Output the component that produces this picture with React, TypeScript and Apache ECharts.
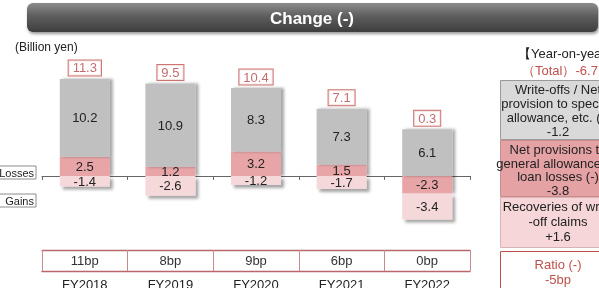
import React, { useEffect, useRef } from "react";
import * as echarts from "echarts";

const categories = ["FY2018", "FY2019", "FY2020", "FY2021", "FY2022"];
const writeOffs = [10.2, 10.9, 8.3, 7.3, 6.1];
const netProvisions = [2.5, 1.2, 3.2, 1.5, -2.3];
const recoveries = [-1.4, -2.6, -1.2, -1.7, -3.4];
const totals = [11.3, 9.5, 10.4, 7.1, 0.3];
const ratios = ["11bp", "8bp", "9bp", "6bp", "0bp"];

const titleText = "Change (-)";
const unitText = "(Billion yen)";
const yoyTitle = "【Year-on-year】";
const yoyTotal = "（Total）-6.7";
const yoyWriteOffs = ["Write-offs / Net", "provision to specific", "allowance, etc. (-)", "-1.2"];
const yoyNetProv = ["Net provisions to", "general allowance for", "loan losses (-)", "-3.8"];
const yoyRecoveries = ["Recoveries of write", "-off claims", "+1.6"];
const yoyRatio = ["Ratio (-)", "-5bp"];

const FONT = "'Liberation Sans', Arial, sans-serif";
const GRAY = "#c0c0c0";
const PINK = "#e8a5a8";
const LPINK = "#f5d8da";
const RED = "#c0504d";

function boxText(lines: string[], cx: number, top: number, lh: number, color = "#222") {
  return {
    type: "text",
    x: cx,
    y: top,
    style: {
      text: lines.join("\n"),
      fill: color,
      font: `13px ${FONT}`,
      textAlign: "center",
      textVerticalAlign: "top",
      lineHeight: lh,
    },
  };
}

export default function App() {
  const ref = useRef<HTMLDivElement>(null);
  useEffect(() => {
    const chart = echarts.init(ref.current!, null, { renderer: "svg" });
    const segLabel = {
      show: true,
      position: "inside",
      fontSize: 13,
      fontFamily: FONT,
      color: "#222",
      formatter: (p: any) => Number(p.value).toFixed(1),
    };
    const shadow = {
      shadowColor: "rgba(0,0,0,0.35)",
      shadowBlur: 3,
      shadowOffsetX: 3,
      shadowOffsetY: 0,
    };
    chart.setOption({
      animation: false,
      textStyle: { fontFamily: FONT },
      grid: { left: 42, right: 129, top: 69, height: 168, containLabel: false, outerBoundsMode: "none" },
      xAxis: [
        {
          type: "category",
          data: categories,
          axisLine: { onZero: true, lineStyle: { color: "#666", width: 1 } },
          axisTick: { show: true, length: 4, lineStyle: { color: "#666" } },
          axisLabel: { show: false },
        },
        {
          type: "category",
          data: ratios,
          position: "bottom",
          offset: 34,
          axisLine: { onZero: false, lineStyle: { color: "#b8686b", width: 1.3 } },
          axisTick: { show: true, inside: true, length: 21, lineStyle: { color: "#c98a8c" } },
          axisLabel: { inside: true, margin: 4, fontSize: 13, color: "#333", fontFamily: FONT },
        },
        {
          type: "category",
          data: categories,
          position: "bottom",
          offset: 13,
          axisLine: { onZero: false, lineStyle: { color: "#b8686b", width: 1.3 } },
          axisTick: { show: false },
          axisLabel: { show: false },
        },
        {
          type: "category",
          data: categories,
          position: "bottom",
          offset: 40,
          axisLine: { show: false, onZero: false },
          axisTick: { show: false },
          axisLabel: { margin: 0, padding: [1, 0, 0, 0], fontSize: 13, color: "#222", fontFamily: FONT, hideOverlap: false },
        },
      ],
      yAxis: { type: "value", min: -8, max: 14, show: false, splitLine: { show: false } },
      series: [
        {
          type: "bar",
          name: "Net provisions",
          stack: "a",
          barWidth: 50,
          data: netProvisions,
          itemStyle: { color: PINK, ...shadow },
          label: segLabel,
        },
        {
          type: "bar",
          name: "Write-offs",
          stack: "a",
          barWidth: 50,
          data: writeOffs,
          itemStyle: { color: GRAY, ...shadow },
          label: segLabel,
        },
        {
          type: "bar",
          name: "Recoveries",
          stack: "a",
          barWidth: 50,
          data: recoveries,
          itemStyle: { color: LPINK, ...shadow, shadowOffsetY: 3 },
          label: segLabel,
        },
        {
          type: "scatter",
          symbolSize: 1,
          itemStyle: { color: "rgba(0,0,0,0)" },
          data: categories.map((_, i) => [i, writeOffs[i] + Math.max(netProvisions[i], 0)]),
          label: {
            show: true,
            position: "top",
            distance: 3,
            formatter: (p: any) => totals[p.dataIndex].toFixed(1),
            fontSize: 13,
            fontFamily: FONT,
            color: "#b5464a",
            backgroundColor: "#fff",
            borderColor: RED,
            borderWidth: 1,
            padding: [1, 4, 1, 4],
            lineHeight: 13,
          },
        },
      ],
      graphic: [
        {
          type: "rect",
          shape: { x: 27, y: 3, width: 571, height: 29, r: 6 },
          style: {
            fill: new echarts.graphic.LinearGradient(0, 0, 0, 1, [
              { offset: 0, color: "#8c8c8c" },
              { offset: 0.45, color: "#5e5e5e" },
              { offset: 1, color: "#3e3e3e" },
            ]),
            shadowColor: "rgba(0,0,0,0.4)",
            shadowBlur: 3,
            shadowOffsetX: 1,
            shadowOffsetY: 2,
          },
        },
        {
          type: "text",
          x: 312,
          y: 18,
          style: {
            text: titleText,
            fill: "#fff",
            font: `bold 17px ${FONT}`,
            textAlign: "center",
            textVerticalAlign: "middle",
          },
        },
        {
          type: "text",
          x: 15,
          y: 47,
          style: { text: unitText, fill: "#222", font: `12px ${FONT}`, textVerticalAlign: "middle" },
        },
        {
          type: "rect",
          shape: { x: -2, y: 166, width: 38, height: 13 },
          style: { fill: "#fff", stroke: "#8c8c8c", lineWidth: 1 },
        },
        {
          type: "text",
          x: 34,
          y: 173,
          style: { text: "Losses", fill: "#222", font: `11px ${FONT}`, textAlign: "right", textVerticalAlign: "middle" },
        },
        {
          type: "rect",
          shape: { x: -2, y: 194, width: 38, height: 13 },
          style: { fill: "#fff", stroke: "#8c8c8c", lineWidth: 1 },
        },
        {
          type: "text",
          x: 34,
          y: 201,
          style: { text: "Gains", fill: "#222", font: `11px ${FONT}`, textAlign: "right", textVerticalAlign: "middle" },
        },
        {
          type: "text",
          x: 518,
          y: 53,
          style: { text: yoyTitle, fill: "#222", font: `13px ${FONT}`, textVerticalAlign: "middle" },
        },
        {
          type: "text",
          x: 522,
          y: 70,
          style: { text: yoyTotal, fill: RED, font: `13px ${FONT}`, textVerticalAlign: "middle" },
        },
        {
          type: "rect",
          shape: { x: 500.5, y: 80.5, width: 130, height: 59 },
          style: { fill: "#d9d9d9", stroke: "#9a9a9a", lineWidth: 1 },
        },
        boxText(yoyWriteOffs, 558, 82, 14),
        {
          type: "rect",
          shape: { x: 500.5, y: 140.5, width: 130, height: 56 },
          style: { fill: "#e5a2a5", stroke: "#c98d90", lineWidth: 1 },
        },
        boxText(yoyNetProv, 558, 143, 13.5),
        {
          type: "rect",
          shape: { x: 500.5, y: 197.5, width: 130, height: 50 },
          style: { fill: "#f6d6d8", stroke: "#d9b3b5", lineWidth: 1 },
        },
        boxText(yoyRecoveries, 558, 199, 15),
        {
          type: "rect",
          shape: { x: 500.5, y: 251.5, width: 130, height: 40 },
          style: { fill: "#fff", stroke: RED, lineWidth: 1 },
        },
        boxText(yoyRatio, 558, 257, 15, RED),
      ],
    });
    return () => chart.dispose();
  }, []);
  return <div ref={ref} style={{ position: "fixed", left: 0, top: 0, width: 599, height: 288 }} />;
}
